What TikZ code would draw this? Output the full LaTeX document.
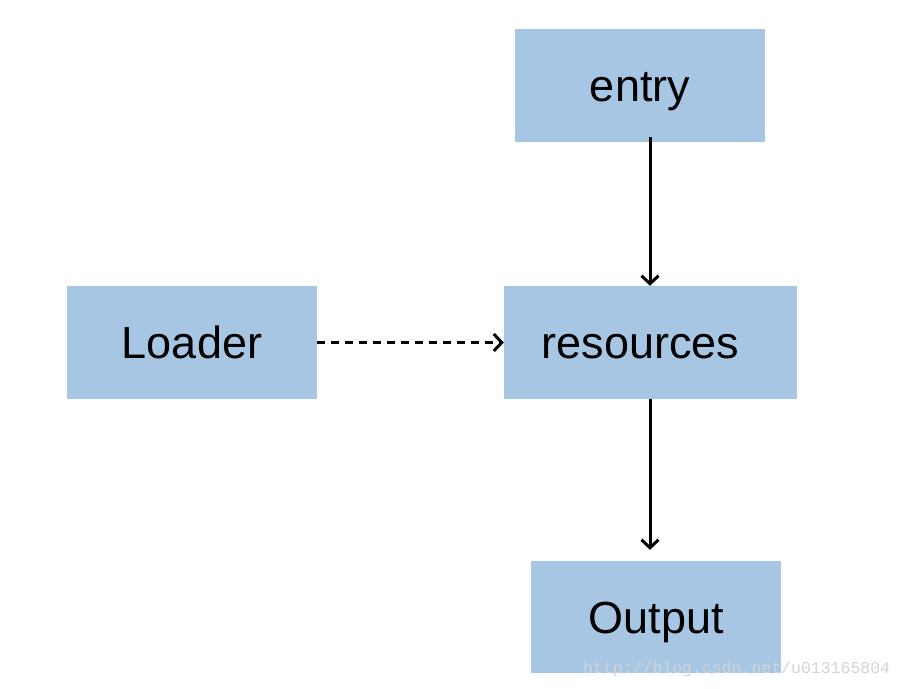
\documentclass[tikz,border=0pt]{standalone}
\usepackage{fontspec}
\setmainfont{Liberation Sans}
\newfontfamily\wmfont{Liberation Mono}
\usetikzlibrary{arrows.meta}
\definecolor{boxblue}{HTML}{A6C6E4}
\definecolor{wmgray}{HTML}{D4D4D4}
\tikzset{
  box/.style={fill=boxblue, draw=none, inner sep=0pt, text height=41pt, text depth=9pt,
    font=\fontsize{45}{50}\selectfont},
  conn/.style={line width=3pt, -{Straight Barb[length=8pt,width=17pt,line width=3pt]}},
}
\begin{document}
\begin{tikzpicture}[x=1pt,y=-1pt]
\useasboundingbox (0,0) rectangle (904,688);
\fill[white] (0,0) rectangle (904,688);
\node[box, minimum width=250pt, minimum height=113pt] (entry) at (640,85.5) {entry};
\node[box, minimum width=250pt, minimum height=113pt] (loader) at (192,342.5) {Loader};
\node[box, minimum width=293pt, minimum height=113pt] (res) at (650.5,342.5) {\hspace*{-20pt}resources};
\node[box, minimum width=250pt, minimum height=112pt] (out) at (656,617) {Output};
\draw[conn] (entry.south -| 650,0) ++(0,-5) coordinate (e1) -- (res.north -| e1);
\draw[conn, dashed, dash pattern=on 8pt off 6pt] (loader.east) -- (res.west);
\draw[conn, shorten >=11pt] (res.south -| 650,0) -- (out.north -| 650,0);
\node[text=wmgray, font=\wmfont\fontsize{16.5}{18}\selectfont, anchor=base west, inner sep=0pt] (wm) at (583,673) {http://blog.csdn.net/u013165804};
\end{tikzpicture}
\end{document}
